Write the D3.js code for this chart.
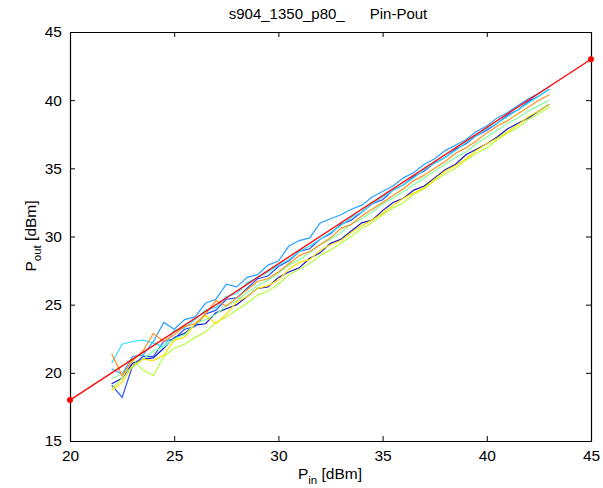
<!DOCTYPE html>
<html><head><meta charset="utf-8">
<script src="https://cdn.jsdelivr.net/npm/d3@7"></script>
<style>body{margin:0;background:#fff}svg text{font-family:"Liberation Sans",Arial,sans-serif;fill:#000}</style>
</head><body><svg id="c" width="603" height="488"></svg>
<script>
const pin = d3.range(22, 43.001, 0.5).map(v => +v.toFixed(1));
const xTicks = [20, 25, 30, 35, 40, 45];
const yTicks = [15, 20, 25, 30, 35, 40, 45];
const refX = [20, 45];
const refY = [18, 43];
const seriesColors = ["#1010d0", "#2050ff", "#28a0ff", "#30e0ff", "#80ffa0", "#b4ff40", "#ffe000", "#ff9020"];
const sDarkBlue = [19.2,19.6,20.7,21.0,21.1,21.8,22.6,22.9,23.5,23.6,24.4,24.7,25.0,25.6,26.2,26.3,27.0,27.4,27.7,28.4,28.8,29.5,29.8,30.4,31.0,31.2,31.9,32.5,32.8,33.4,33.7,34.3,34.9,35.3,36.0,36.4,36.8,37.3,37.9,38.3,38.7,39.2,39.7];
const sBlue = [19.1,18.2,20.5,21.2,21.2,22.3,22.5,23.2,23.4,24.3,24.6,25.4,25.5,26.2,26.9,27.1,27.8,28.2,28.9,29.1,29.8,30.2,30.9,31.2,31.8,32.4,32.7,33.4,33.8,34.4,34.8,35.4,35.8,36.4,36.8,37.4,37.8,38.3,38.9,39.3,39.9,40.3,40.8];
const sLightBlue = [20.3,19.9,21.2,21.3,22.3,23.7,23.2,23.9,24.1,25.1,25.4,26.5,26.3,27.0,27.2,27.9,28.2,29.3,29.7,29.9,31.0,31.3,31.6,32.0,32.3,32.9,33.3,33.7,34.3,34.7,35.3,35.7,36.3,36.7,37.1,37.7,38.1,38.7,39.1,39.6,40.1,40.5,41.0];
const sCyan = [20.7,22.1,22.3,22.4,22.2,21.9,23.1,23.3,23.9,24.6,24.8,25.6,25.8,26.6,27.0,27.4,27.9,28.3,28.9,29.3,29.8,30.3,30.8,31.4,31.8,32.4,32.9,33.4,33.8,34.3,34.9,35.4,35.8,36.3,36.9,37.4,37.9,38.3,38.8,39.3,39.8,40.3,40.8];
const sAqua = [19.6,19.9,20.4,21.0,21.6,21.9,22.5,22.8,23.6,23.9,24.3,24.9,25.3,25.9,26.4,26.8,27.3,27.9,28.3,28.8,29.4,29.8,30.3,30.9,31.3,31.8,32.4,32.8,33.3,33.8,34.3,34.8,35.3,35.8,36.2,36.8,37.3,37.8,38.3,38.7,39.2,39.6,40.0];
const sYellowGreen = [18.8,19.6,21.0,20.2,19.8,21.2,21.8,22.1,22.6,23.0,23.7,24.1,24.6,25.1,25.7,26.0,26.5,27.2,27.6,28.0,28.6,29.0,29.5,30.0,30.6,31.0,31.6,32.1,32.5,33.1,33.5,34.1,34.6,35.0,35.6,36.1,36.5,37.1,37.6,38.0,38.6,39.0,39.5];
const sYellow = [18.7,19.3,20.5,21.0,20.9,21.3,22.4,22.6,23.6,24.2,23.6,24.3,25.2,25.6,26.2,26.4,26.8,27.6,28.1,28.3,29.0,29.4,29.7,30.3,30.8,31.2,31.7,32.3,32.8,33.2,33.6,34.2,34.8,35.2,35.7,36.3,36.8,37.2,37.7,38.2,38.8,39.2,39.7];
const sOrange = [21.4,19.8,20.9,21.6,22.9,22.3,22.8,23.4,23.6,24.3,25.3,24.9,25.5,26.1,26.7,26.9,27.4,28.0,28.6,28.9,29.4,29.9,30.6,30.9,31.5,32.0,32.5,33.0,33.5,34.1,34.5,35.0,35.5,36.1,36.5,37.0,37.6,38.1,38.5,39.0,39.5,40.0,40.4];
const allSeries = [sDarkBlue, sBlue, sLightBlue, sCyan, sAqua, sYellowGreen, sYellow, sOrange];

const svg = d3.select("#c");
const L = 70, R = 591, T = 32, B = 441;
const x = d3.scaleLinear().domain([20, 45]).range([L, R]);
const y = d3.scaleLinear().domain([15, 45]).range([B, T]);

svg.append("defs").append("clipPath").attr("id", "clip")
  .append("rect").attr("x", L).attr("y", T).attr("width", R - L).attr("height", B - T);

const line = d3.line().x(d => x(d[0])).y(d => y(d[1]));
const g = svg.append("g").attr("clip-path", "url(#clip)");
allSeries.forEach((s, k) => {
  g.append("path").datum(pin.map((p, i) => [p, s[i]]))
    .attr("d", line).attr("fill", "none").attr("stroke", seriesColors[k]).attr("stroke-width", 1.2);
});
svg.append("path").datum(refX.map((v, i) => [v, refY[i]]))
  .attr("d", line).attr("fill", "none").attr("stroke", "#ff0000").attr("stroke-width", 1.3);

const fs = 15.5;
const axB = svg.append("g").attr("transform", `translate(0,${B})`)
  .call(d3.axisBottom(x).tickValues(xTicks).tickSizeInner(-5).tickSizeOuter(0).tickPadding(9));
const axT = svg.append("g").attr("transform", `translate(0,${T})`)
  .call(d3.axisTop(x).tickValues(xTicks).tickSizeInner(-5).tickSizeOuter(0).tickFormat(""));
const axL = svg.append("g").attr("transform", `translate(${L},0)`)
  .call(d3.axisLeft(y).tickValues(yTicks).tickSizeInner(-5).tickSizeOuter(0).tickPadding(8));
const axR = svg.append("g").attr("transform", `translate(${R},0)`)
  .call(d3.axisRight(y).tickValues(yTicks).tickSizeInner(-5).tickSizeOuter(0).tickFormat(""));
[axB, axT, axL, axR].forEach(a => {
  a.select(".domain").attr("stroke", "#000").attr("stroke-width", 1.2);
  a.selectAll(".tick line").attr("stroke", "#000");
  a.selectAll("text").attr("font-size", fs).attr("font-family", "Liberation Sans, Arial, sans-serif").attr("fill", "#000");
});

svg.selectAll("circle.ref").data(refX.map((v, i) => [v, refY[i]])).enter().append("circle")
  .attr("cx", d => x(d[0])).attr("cy", d => y(d[1])).attr("r", 3).attr("fill", "#ff0000");

svg.append("text").attr("x", 328).attr("y", 19).attr("text-anchor", "middle").attr("font-size", 15)
  .style("white-space", "pre").text("s904_1350_p80_      Pin-Pout");

const xl = svg.append("text").attr("x", 330).attr("y", 479).attr("text-anchor", "middle").attr("font-size", fs);
xl.append("tspan").text("P");
xl.append("tspan").attr("dy", 5).attr("font-size", 11.5).text("in");
xl.append("tspan").attr("dy", -5).text(" [dBm]");

const yl = svg.append("text").attr("transform", "translate(36,236) rotate(-90)").attr("text-anchor", "middle").attr("font-size", fs);
yl.append("tspan").text("P");
yl.append("tspan").attr("dy", 5).attr("font-size", 11.5).text("out");
yl.append("tspan").attr("dy", -5).text(" [dBm]");
</script></body></html>
